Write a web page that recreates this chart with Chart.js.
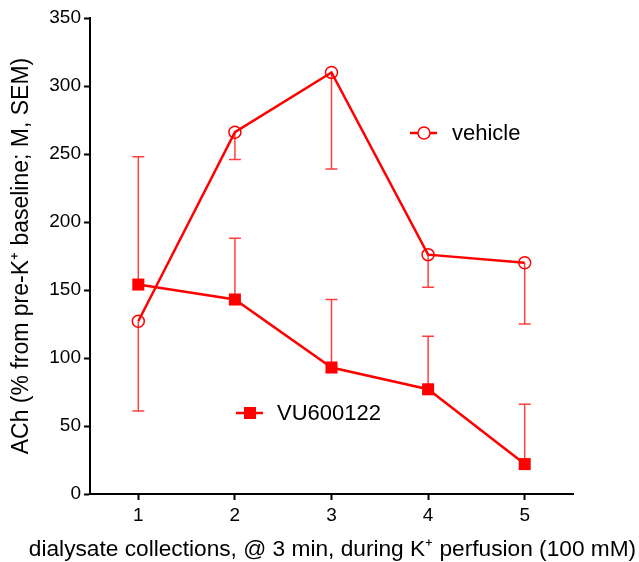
<!DOCTYPE html>
<html>
<head>
<meta charset="utf-8">
<script src="https://cdn.jsdelivr.net/npm/chart.js@4/dist/chart.umd.min.js"></script>
<style>
html,body{margin:0;padding:0;background:#fff;}
#wrap{width:639px;height:562px;position:relative;}
</style>
</head>
<body>
<div id="wrap"><canvas id="c" width="639" height="562"></canvas></div>
<script>
const categories = [1, 2, 3, 4, 5];
const vehicleMean = [127, 266, 310, 176, 170];
const vehicleSem  = [66, 20, 71, 24, 45];   // drawn downward
const vuMean      = [154, 143, 93, 77, 22];
const vuSem       = [94, 45, 50, 39, 44];   // drawn upward
const yTicks = [0, 50, 100, 150, 200, 250, 300, 350];
const xTitle = 'dialysate collections, @ 3 min, during K\u207A perfusion (100 mM)';
const yTitle = 'ACh (% from pre-K\u207A baseline; M, SEM)';

const RED = '#ff0000';
const FONT = '"Liberation Sans", Arial, sans-serif';

const errorBars = {
  id: 'errorBars',
  beforeDatasetsDraw(chart) {
    const ctx = chart.ctx;
    const x = chart.scales.x, y = chart.scales.y;
    ctx.save();
    ctx.strokeStyle = 'rgba(255,0,0,0.75)';
    ctx.lineWidth = 1.5;
    const draw = (mean, sem, dir) => {
      categories.forEach((c, i) => {
        const px = x.getPixelForValue(c);
        const p0 = y.getPixelForValue(mean[i]);
        const p1 = y.getPixelForValue(mean[i] + dir * sem[i]);
        ctx.beginPath();
        ctx.moveTo(px, p0); ctx.lineTo(px, p1);
        ctx.moveTo(px - 6, p1); ctx.lineTo(px + 6, p1);
        ctx.stroke();
      });
    };
    draw(vehicleMean, vehicleSem, -1);
    draw(vuMean, vuSem, 1);
    ctx.restore();
  }
};

const legendPlugin = {
  id: 'customLegend',
  afterDraw(chart) {
    const ctx = chart.ctx;
    ctx.save();
    // x-axis title (drawn without width squeezing)
    const xs = chart.scales.x;
    ctx.font = '22.7px ' + FONT;
    ctx.fillStyle = '#000';
    ctx.textAlign = 'center';
    ctx.textBaseline = 'middle';
    ctx.fillText(xTitle, (xs.left + xs.right) / 2 + 1, 550);
    ctx.textAlign = 'left';
    ctx.font = '22px ' + FONT;
    ctx.strokeStyle = RED;
    ctx.lineWidth = 2.5;
    // vehicle
    let ly = 133;
    ctx.beginPath(); ctx.moveTo(410, ly); ctx.lineTo(437, ly); ctx.stroke();
    ctx.beginPath(); ctx.lineWidth = 1.5; ctx.fillStyle = '#fff';
    ctx.arc(424, ly, 6, 0, Math.PI * 2); ctx.fill(); ctx.stroke();
    ctx.fillStyle = '#000';
    ctx.fillText('vehicle', 452, ly + 1);
    // VU600122
    ly = 413;
    ctx.lineWidth = 2.5;
    ctx.beginPath(); ctx.moveTo(236, ly); ctx.lineTo(263, ly); ctx.stroke();
    ctx.fillStyle = RED;
    ctx.fillRect(250 - 6, ly - 6, 12, 12);
    ctx.fillStyle = '#000';
    ctx.fillText('VU600122', 277, ly + 1);
    ctx.restore();
  }
};

new Chart(document.getElementById('c'), {
  type: 'line',
  data: {
    datasets: [
      {
        label: 'vehicle',
        data: categories.map((c, i) => ({x: c, y: vehicleMean[i]})),
        borderColor: RED, borderWidth: 2.5,
        pointStyle: 'circle', pointRadius: 6, pointBorderWidth: 1.5,
        pointBackgroundColor: 'rgba(255,255,255,0)', pointBorderColor: RED,
        tension: 0, fill: false
      },
      {
        label: 'VU600122',
        data: categories.map((c, i) => ({x: c, y: vuMean[i]})),
        borderColor: RED, borderWidth: 2.5,
        pointStyle: 'rect', pointRadius: 8.5, pointBorderWidth: 0,
        pointBackgroundColor: RED, pointBorderColor: RED,
        tension: 0, fill: false
      }
    ]
  },
  options: {
    responsive: false,
    animation: false,
    devicePixelRatio: 1,
    layout: {padding: {top: 18, right: 66, left: 0, bottom: 0}},
    plugins: {legend: {display: false}, tooltip: {enabled: false}},
    scales: {
      x: {
        type: 'linear', min: 0.5, max: 5.5,
        afterBuildTicks: s => { s.ticks = categories.map(v => ({value: v})); },
        afterFit: s => { s.height = 68; },
        grid: {display: true, drawOnChartArea: false, drawTicks: true, tickLength: 6, tickColor: '#000', tickWidth: 2},
        border: {display: true, color: '#000', width: 2},
        ticks: {color: '#000', font: {size: 19, family: FONT}, padding: 4},
        title: {display: false}
      },
      y: {
        min: 0, max: 350,
        afterBuildTicks: s => { s.ticks = yTicks.map(v => ({value: v})); },
        afterFit: s => { s.width = 90; },
        grid: {display: true, drawOnChartArea: false, drawTicks: true, tickLength: 6, tickColor: '#000', tickWidth: 2},
        border: {display: true, color: '#000', width: 2},
        ticks: {color: '#000', font: {size: 19, family: FONT}, padding: 3},
        title: {display: true, text: yTitle, color: '#000', font: {size: 23, family: FONT}, padding: {top: 8, bottom: 4}}
      }
    }
  },
  plugins: [errorBars, legendPlugin]
});
</script>
</body>
</html>
